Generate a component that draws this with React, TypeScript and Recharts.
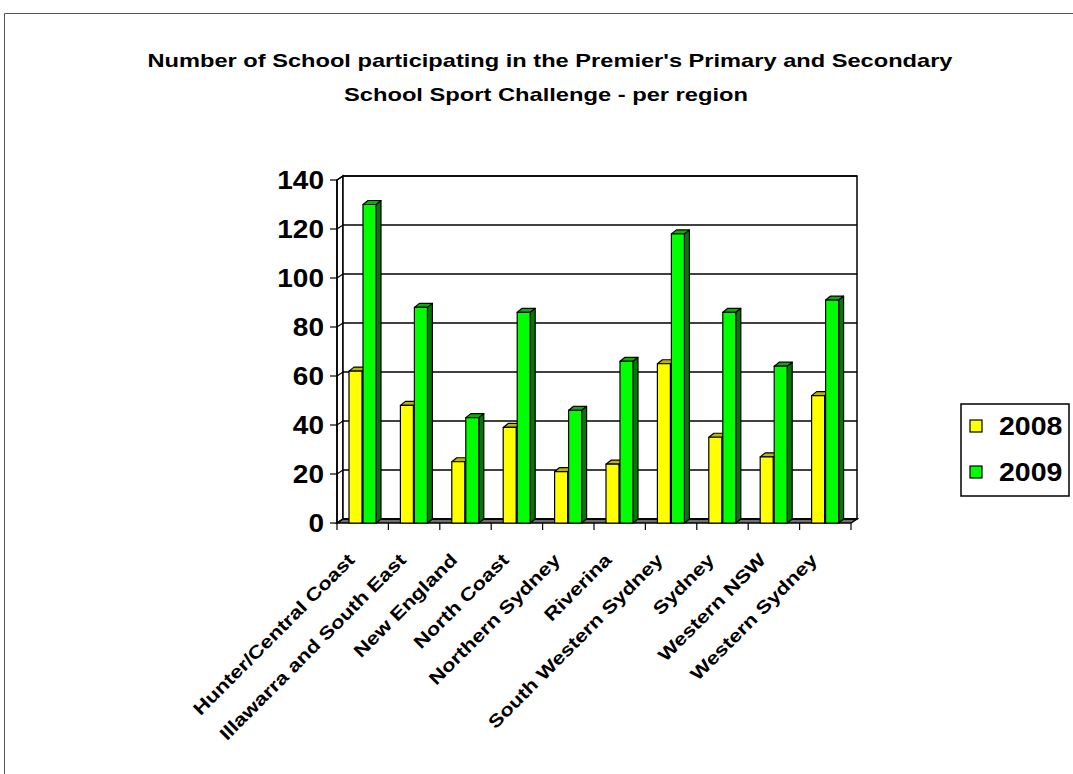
import React from 'react';
import { BarChart, Bar, XAxis, YAxis, CartesianGrid, Legend } from 'recharts';

const categories = [
  'Hunter/Central Coast',
  'Illawarra and South East',
  'New England',
  'North Coast',
  'Northern Sydney',
  'Riverina',
  'South Western Sydney',
  'Sydney',
  'Western NSW',
  'Western Sydney',
];
const values2008 = [62, 48, 25, 39, 21, 24, 65, 35, 27, 52];
const values2009 = [130, 88, 43, 86, 46, 66, 118, 86, 64, 91];
const seriesNames = ['2008', '2009'];
const yTicks = [0, 20, 40, 60, 80, 100, 120, 140];
const titleLines = [
  "Number of School participating in the Premier's Primary and Secondary",
  'School Sport Challenge - per region',
];

const data = categories.map((name, i) => ({ name, y2008: values2008[i], y2009: values2009[i] }));

const W = 1073;
const H = 774;
const PLOT_L = 337;
const PLOT_R = 851;
const PLOT_T = 180;
const PLOT_B = 523;
const DX = 6; // wall depth
const DY = -4;
const BAR_DX = 5;
const BAR_DY = -4;
const BAND = (PLOT_R - PLOT_L) / categories.length;
const FONT = '"Liberation Sans", Arial, sans-serif';

const COLORS = {
  y2008: { front: '#FFFF00', top: '#B8B800', side: '#8C8C00' },
  y2009: { front: '#00FF00', top: '#00B400', side: '#007A00' },
};

const make3DBar = (c: { front: string; top: string; side: string }) => (props: any) => {
  const { x, y, width, height } = props;
  if (height == null || height <= 0) return null;
  const r = x + width;
  const b = y + height;
  return (
    <g stroke="#000" strokeWidth={1.2} strokeLinejoin="round">
      <polygon points={`${r},${y} ${r + BAR_DX},${y + BAR_DY} ${r + BAR_DX},${b + BAR_DY} ${r},${b}`} fill={c.side} />
      <polygon points={`${x},${y} ${x + BAR_DX},${y + BAR_DY} ${r + BAR_DX},${y + BAR_DY} ${r},${y}`} fill={c.top} />
      <rect x={x} y={y} width={width} height={height} fill={c.front} />
    </g>
  );
};

const walls = (
  <g key="walls" stroke="#000" strokeWidth={1.5}>
    <polygon
      points={`${PLOT_L},${PLOT_T} ${PLOT_L + DX},${PLOT_T + DY} ${PLOT_L + DX},${PLOT_B + DY} ${PLOT_L},${PLOT_B}`}
      fill="#fff"
    />
    <rect x={PLOT_L + DX} y={PLOT_T + DY} width={PLOT_R - PLOT_L} height={PLOT_B - PLOT_T} fill="#fff" />
    <polygon
      points={`${PLOT_L},${PLOT_B} ${PLOT_L + DX},${PLOT_B + DY} ${PLOT_R + DX},${PLOT_B + DY} ${PLOT_R},${PLOT_B}`}
      fill="#707070"
    />
  </g>
);

const renderGridLine = (props: any) => {
  const { y1, index } = props;
  return (
    <g key={`grid-${index}-${y1}`}>
      {index === 0 && walls}
      <line x1={PLOT_L} y1={y1} x2={PLOT_L + DX} y2={y1 + DY} stroke="#000" strokeWidth={1.2} />
      <line x1={PLOT_L + DX} y1={y1 + DY} x2={PLOT_R + DX} y2={y1 + DY} stroke="#000" strokeWidth={1.5} />
    </g>
  );
};

const YTick = (props: any) => {
  const { y, payload } = props;
  return (
    <g transform={`translate(324,${y + 9}) scale(1.12,1)`}>
      <text x={0} y={0} textAnchor="end" fontFamily={FONT} fontWeight="bold" fontSize={25} fill="#000">
        {payload.value}
      </text>
    </g>
  );
};

const XTick = (props: any) => {
  const { x, payload, index } = props;
  const left = x - BAND / 2;
  return (
    <g>
      <line x1={left} y1={PLOT_B} x2={left} y2={PLOT_B + 7} stroke="#000" strokeWidth={1.2} />
      {index === categories.length - 1 && (
        <line x1={left + BAND} y1={PLOT_B} x2={left + BAND} y2={PLOT_B + 7} stroke="#000" strokeWidth={1.2} />
      )}
      <g transform={`translate(${x - 7},561) rotate(-45) scale(1.22,1)`}>
        <text x={0} y={0} textAnchor="end" fontFamily={FONT} fontWeight="bold" fontSize={18} fill="#000">
          {payload.value}
        </text>
      </g>
    </g>
  );
};

const LegendBox = () => (
  <svg width={112} height={96} style={{ display: 'block' }}>
    <rect x={1} y={1} width={108} height={92} fill="#fff" stroke="#000" strokeWidth={1.5} />
    {seriesNames.map((name, i) => {
      const key = i === 0 ? 'y2008' : 'y2009';
      const cy = 23 + i * 46;
      return (
        <g key={name}>
          <rect x={10} y={cy - 6} width={12} height={12} fill={COLORS[key].front} stroke="#000" strokeWidth={1.2} />
          <g transform={`translate(39,${cy + 9}) scale(1.14,1)`}>
            <text x={0} y={0} fontFamily={FONT} fontWeight="bold" fontSize={25} fill="#000">
              {name}
            </text>
          </g>
        </g>
      );
    })}
  </svg>
);

export default function App() {
  return (
    <div style={{ position: 'absolute', left: 0, top: 0, width: W, height: H, background: '#fff' }}>
      <BarChart
        width={W}
        height={H}
        data={data}
        margin={{ left: PLOT_L - 60, right: W - PLOT_R, top: PLOT_T, bottom: H - PLOT_B - 30 }}
        barSize={13}
        barGap={1}
      >
        <CartesianGrid horizontal={renderGridLine} vertical={false} />
        <XAxis dataKey="name" interval={0} axisLine={false} tickLine={false} tick={<XTick />} height={30} />
        <YAxis
          domain={[0, 140]}
          ticks={yTicks}
          width={60}
          axisLine={{ stroke: '#000', strokeWidth: 1.5 }}
          tickLine={{ stroke: '#000', strokeWidth: 1.2 }}
          tickSize={7}
          tick={<YTick />}
        />
        <Legend
          layout="horizontal"
          align="center"
          verticalAlign="middle"
          wrapperStyle={{ left: 960, top: 403, width: 112, height: 96 }}
          content={<LegendBox />}
        />
        <Bar dataKey="y2008" name={seriesNames[0]} fill={COLORS.y2008.front} shape={make3DBar(COLORS.y2008)} isAnimationActive={false} />
        <Bar dataKey="y2009" name={seriesNames[1]} fill={COLORS.y2009.front} shape={make3DBar(COLORS.y2009)} isAnimationActive={false} />
      </BarChart>
      <svg width={W} height={H} style={{ position: 'absolute', left: 0, top: 0, pointerEvents: 'none' }}>
        <path d={`M4.5,${H} L4.5,13.5 L${W},13.5`} fill="none" stroke="#555" strokeWidth={1} />
        <text
          x={550}
          y={67}
          textAnchor="middle"
          fontFamily={FONT}
          fontWeight="bold"
          fontSize={18.5}
          textLength={805}
          lengthAdjust="spacingAndGlyphs"
          fill="#000"
        >
          {titleLines[0]}
        </text>
        <text
          x={546}
          y={101}
          textAnchor="middle"
          fontFamily={FONT}
          fontWeight="bold"
          fontSize={18.5}
          textLength={404}
          lengthAdjust="spacingAndGlyphs"
          fill="#000"
        >
          {titleLines[1]}
        </text>
      </svg>
    </div>
  );
}
